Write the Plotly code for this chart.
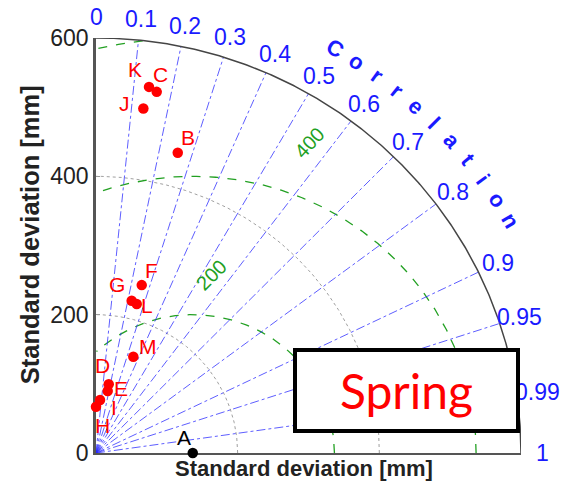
import numpy as np
import plotly.graph_objects as go

# Taylor diagram data: standard deviation [mm] and correlation for each model
models = ["A", "B", "C", "D", "E", "F", "G", "H", "I", "J", "K", "L", "M"]
std_dev = [136.6, 449.1, 529.1, 100.9, 91.1, 251.2, 225.8, 66.9, 76.8, 502.6, 534.6, 222.9, 148.8]
correlation = [1.0, 0.257, 0.162, 0.178, 0.181, 0.257, 0.223, 0.0, 0.074, 0.133, 0.140, 0.258, 0.354]

std_ticks = [0, 200, 400, 600]
std_arcs = [200, 400]
rms_levels = [200, 400, 600]
corr_lines = [0.1, 0.2, 0.3, 0.4, 0.5, 0.6, 0.7, 0.8, 0.9, 0.95, 0.99]
corr_ticks = [0, 0.1, 0.2, 0.3, 0.4, 0.5, 0.6, 0.7, 0.8, 0.9, 0.95, 0.99, 1]
corr_tick_labels = ["0", "0.1", "0.2", "0.3", "0.4", "0.5", "0.6", "0.7", "0.8", "0.9", "0.95", "0.99", "1"]

R_MAX = 600
ref_std = std_dev[0]

# label offsets in pixels (dx right, dy down) for the point names
label_offsets = {
    "A": (-9, -16), "B": (10, -15), "C": (4, -17), "D": (-6, -19), "E": (13, -3),
    "F": (10, -15), "G": (-15, -16), "H": (6, 19), "I": (14, 7), "J": (-19, -5),
    "K": (-14, -17), "L": (10, 1), "M": (15, -10),
}

FONT = "Liberation Sans, Arial, sans-serif"
BLUE = "#1a1aff"
GREEN = "#22a022"


def to_paper(x, y):
    # axes span [0, R_MAX] over the full plot domain, so paper = value / R_MAX;
    # paper coordinates let labels sit outside the axis ranges
    return float(x) / R_MAX, float(y) / R_MAX


fig = go.Figure()

theta = np.linspace(0, np.pi / 2, 300)

# standard deviation arcs (dotted grey)
for r in std_arcs:
    fig.add_trace(go.Scatter(x=r * np.cos(theta), y=r * np.sin(theta), mode="lines",
                             line=dict(color="#a0a0a0", width=1, dash="dot"),
                             hoverinfo="skip", showlegend=False))

# centred RMS difference arcs around the reference point (dashed green)
phi = np.linspace(0, np.pi, 600)
for r in rms_levels:
    x = ref_std + r * np.cos(phi)
    y = r * np.sin(phi)
    keep = (x >= 0) & (x ** 2 + y ** 2 <= R_MAX ** 2 + 1e-6)
    xs = np.where(keep, x, np.nan)
    ys = np.where(keep, y, np.nan)
    fig.add_trace(go.Scatter(x=xs, y=ys, mode="lines",
                             line=dict(color=GREEN, width=1.3, dash="dash"),
                             hoverinfo="skip", showlegend=False))

# correlation rays (blue dash-dot)
for c in corr_lines:
    a = np.arccos(c)
    fig.add_trace(go.Scatter(x=[0, R_MAX * np.cos(a)], y=[0, R_MAX * np.sin(a)], mode="lines",
                             line=dict(color="rgba(40,40,255,0.75)", width=1, dash="dashdot"),
                             hoverinfo="skip", showlegend=False))

# outer boundary arc
fig.add_trace(go.Scatter(x=R_MAX * np.cos(theta), y=R_MAX * np.sin(theta), mode="lines",
                         line=dict(color="#454545", width=1.5),
                         hoverinfo="skip", showlegend=False))

# model points
std_arr = np.array(std_dev)
ang = np.arccos(np.array(correlation))
px = std_arr * np.cos(ang)
py = std_arr * np.sin(ang)
colors = ["black" if m == "A" else "#ff0000" for m in models]
fig.add_trace(go.Scatter(x=px, y=py, mode="markers", cliponaxis=False,
                         marker=dict(color=colors, size=10.5),
                         hoverinfo="skip", showlegend=False))

annotations = []
for m, x, y in zip(models, px, py):
    dx, dy = label_offsets[m]
    annotations.append(dict(x=x, y=y, xref="x", yref="y", text=m, showarrow=False,
                            xshift=dx, yshift=-dy,
                            font=dict(family=FONT, size=21, color="black" if m == "A" else "#ff0000")))

# correlation tick labels around the outer arc
for c, t in zip(corr_ticks, corr_tick_labels):
    a = np.arccos(c)
    ux, uy = to_paper(630 * np.cos(a), 630 * np.sin(a))
    annotations.append(dict(x=ux, y=uy, xref="paper", yref="paper", text=t,
                            showarrow=False, xanchor="center", yanchor="middle",
                            font=dict(family=FONT, size=23, color=BLUE)))

# "Correlation" written along the arc
word = "Correlation"
angles = np.linspace(60.0, 29.9, len(word))
for ch, deg in zip(word, angles):
    a = np.radians(deg)
    ux, uy = to_paper(675 * np.cos(a), 675 * np.sin(a))
    annotations.append(dict(x=ux, y=uy, xref="paper", yref="paper", text=f"<b>{ch}</b>",
                            showarrow=False, textangle=90 - deg, xanchor="center", yanchor="middle",
                            font=dict(family=FONT, size=22, color=BLUE)))

# RMS contour labels
annotations.append(dict(x=163, y=257, xref="x", yref="y", text="200", showarrow=False, textangle=-45,
                        font=dict(family=FONT, size=20, color=GREEN)))
annotations.append(dict(x=301, y=448, xref="x", yref="y", text="400", showarrow=False, textangle=-47,
                        font=dict(family=FONT, size=20, color=GREEN)))

# axis titles
annotations.append(dict(x=0.49, y=0, xref="paper", yref="paper", text="<b>Standard deviation [mm]</b>",
                        showarrow=False, yshift=-15, yanchor="middle",
                        font=dict(family=FONT, size=22, color="#222")))
annotations.append(dict(x=-0.155, y=0.525, xref="paper", yref="paper", text="<b>Standard deviation [mm]</b>",
                        showarrow=False, textangle=-90, xanchor="center", yanchor="middle",
                        font=dict(family=FONT, size=25.5, color="#222")))

# season box
annotations.append(dict(x=438, y=90.3, xref="x", yref="y", text="Spring", showarrow=False,
                        width=219, height=77, bgcolor="white", bordercolor="black", borderwidth=4,
                        borderpad=0, xanchor="center", yanchor="middle",
                        font=dict(family="Lato, sans-serif", size=48, color="#ff0000")))

fig.update_layout(
    width=575, height=500,
    margin=dict(l=96, r=54, t=38, b=47),
    plot_bgcolor="white", paper_bgcolor="white",
    annotations=annotations,
    xaxis=dict(range=[0, R_MAX], showgrid=False, zeroline=False, showticklabels=False, ticks="",
               showline=True, linecolor="#555", linewidth=2, layer="below traces", fixedrange=True),
    yaxis=dict(range=[0, R_MAX], showgrid=False, zeroline=False, tickvals=std_ticks,
               ticktext=[str(v) for v in std_ticks], ticks="inside", ticklen=4, tickcolor="#999",
               showline=True, linecolor="#555", linewidth=2.5, layer="below traces",
               tickfont=dict(family=FONT, size=23, color="#222"), fixedrange=True),
)

fig.write_html("out.html")
